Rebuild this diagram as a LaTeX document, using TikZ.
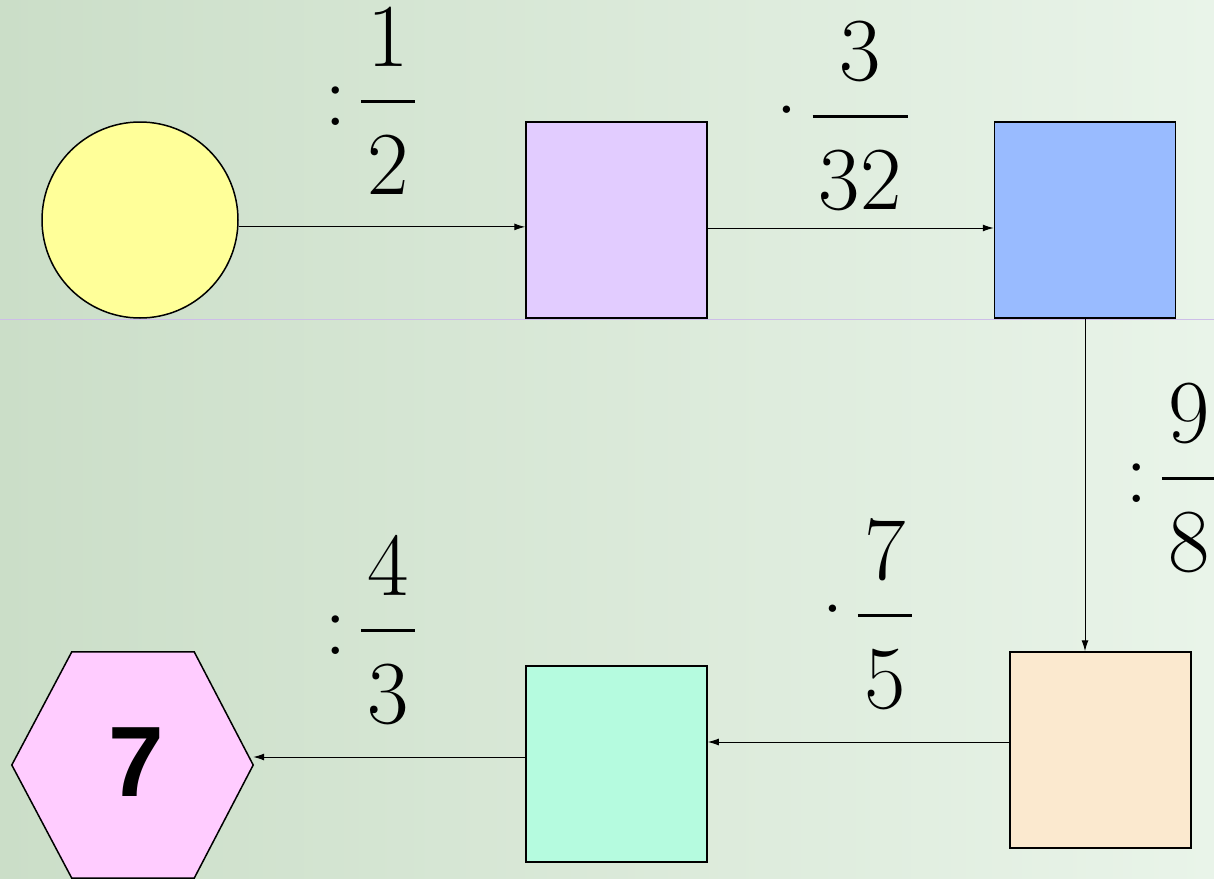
\documentclass[tikz,border=0pt]{standalone}
\usepackage{fontspec}
\newfontfamily\tnr{Latin Modern Roman}
\newfontfamily\boldsans{Liberation Sans}
\usetikzlibrary{arrows.meta}
\definecolor{bgL}{RGB}{203,222,200}
\definecolor{bgR}{RGB}{233,244,233}
\definecolor{cYel}{RGB}{255,255,153}
\definecolor{cPur}{RGB}{226,204,255}
\definecolor{cBlu}{RGB}{153,187,255}
\definecolor{cPea}{RGB}{251,233,207}
\definecolor{cMin}{RGB}{181,251,223}
\definecolor{cPin}{RGB}{255,204,255}
\definecolor{cLine}{RGB}{205,190,232}
\newcommand\stk[2]{%
  \setbox0=\hbox{\kern0.07em#1\kern0.07em}%
  \setbox2=\hbox{\kern0.07em#2\kern0.07em}%
  \ifdim\wd0>\wd2 \dimen0=\wd0 \else \dimen0=\wd2 \fi
  \raisebox{-0.7665em}{\vbox{\hbox to\dimen0{\hss\box0\hss}\kern0.367em\hrule height0.033em\kern0.356em\hbox to\dimen0{\hss\box2\hss}}}}
\tikzset{
  box/.style={draw=black, line width=1.5pt, minimum width=181pt, minimum height=196pt, inner sep=0pt},
  arr/.style={draw=black, line width=1pt, -{Latex[length=11pt,width=7pt]}},
  lbl/.style={inner sep=0pt, anchor=base east, font=\tnr\fontsize{90}{90}\selectfont},
}
\begin{document}
\begin{tikzpicture}[x=1pt,y=-1pt]
\useasboundingbox (0,0) rectangle (1214,878);
\shade[left color=bgL, right color=bgR] (0,0) rectangle (1214,878);
\draw[cLine, line width=0.8pt] (0,319) -- (1214,319);
% nodes
\node[circle, draw=black, line width=1.5pt, fill=cYel, minimum size=196pt, inner sep=0pt] (c) at (140,220) {};
\node[box, fill=cPur] (p) at (616.5,220) {};
\node[box, fill=cBlu] (b) at (1085,220) {};
\node[box, fill=cPea] (pe) at (1100.5,750) {};
\node[box, fill=cMin] (g) at (616.5,764) {};
\node[inner sep=0pt, minimum width=241pt, minimum height=226pt] (h) at (132.5,765) {};
\fill[cPin, draw=black, line width=1.5pt] (h.west) -- ([xshift=60pt]h.north west) -- ([xshift=-59pt]h.north east) -- (h.east) -- ([xshift=-59pt]h.south east) -- ([xshift=60pt]h.south west) -- cycle;
\node[inner sep=0pt, font=\boldsans\bfseries\fontsize{100}{100}\selectfont] (seven) at ([xshift=4pt,yshift=3pt]h.center) {7};
% connectors
\draw[arr] (c.-4.7) -- (c.-4.7 -| p.west);
\draw[arr] ([yshift=-8pt]p.east) -- ([yshift=-8pt]b.west);
\draw[arr] (b.south) -- (b.south |- pe.north);
\draw[arr] ([yshift=8pt]pe.west) -- ([yshift=8pt]pe.west -| g.east);
\draw[arr] ([yshift=7pt]g.west) -- ([yshift=7pt]g.west -| h.east);
% labels
\node[lbl] (l1) at (415,125.5) {:\kern0.15em\stk{1}{2}};
\node[lbl] (l2) at (908,140.5) {·\kern-0.08em\stk{3}{32}};
\node[lbl] (l3) at (1216,502.5) {:\kern0.15em\stk{9}{8}};
\node[lbl] (l4) at (912,639.5) {·\kern-0.08em\stk{7}{5}};
\node[lbl] (l5) at (415,654.5) {:\kern0.15em\stk{4}{3}};
\end{tikzpicture}
\end{document}
